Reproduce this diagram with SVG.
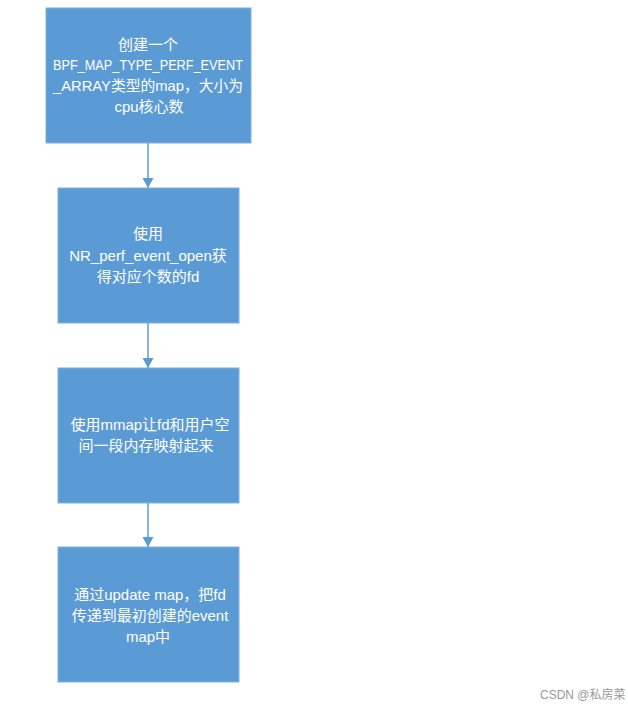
<svg xmlns="http://www.w3.org/2000/svg" width="628" height="709" viewBox="0 0 628 709">
<style>
.box{fill:#5b9bd5;stroke:#7fb0df;stroke-width:1}
.t{font-family:"Liberation Sans","Noto Sans CJK SC",sans-serif;font-size:15px;fill:#ffffff;text-anchor:middle}
.c{stroke:#5b9bd5;stroke-width:1.5;fill:none}
.wm{font-family:"Liberation Sans","Noto Sans CJK SC",sans-serif;font-size:12px;fill:#999999}
</style>
<defs>
<marker id="ah" markerWidth="10" markerHeight="11" refX="10" refY="5.5" orient="auto" markerUnits="userSpaceOnUse">
<path d="M0,0 L10,5.5 L0,11 Z" fill="#5b9bd5"/>
</marker>
</defs>
<rect width="628" height="709" fill="#ffffff"/>
<g id="connectors">
<line class="c" x1="148" y1="143" x2="148" y2="188" marker-end="url(#ah)"/>
<line class="c" x1="148" y1="323" x2="148" y2="368" marker-end="url(#ah)"/>
<line class="c" x1="148" y1="503" x2="148" y2="547" marker-end="url(#ah)"/>
</g>
<g id="node1">
<rect class="box" x="46" y="8" width="205" height="135"/>
<text class="t" x="148" y="50">创建一个</text>
<text class="t" x="148" y="70" textLength="190" lengthAdjust="spacingAndGlyphs">BPF_MAP_TYPE_PERF_EVENT</text>
<text class="t" x="148" y="91" textLength="190" lengthAdjust="spacingAndGlyphs">_ARRAY类型的map，大小为</text>
<text class="t" x="149" y="112">cpu核心数</text>
</g>
<g id="node2">
<rect class="box" x="58" y="188" width="181" height="135"/>
<text class="t" x="148" y="239">使用</text>
<text class="t" x="148" y="261">NR_perf_event_open获</text>
<text class="t" x="148" y="282">得对应个数的fd</text>
</g>
<g id="node3">
<rect class="box" x="58" y="368" width="181" height="135"/>
<text class="t" x="150" y="430">使用mmap让fd和用户空</text>
<text class="t" x="146" y="451">间一段内存映射起来</text>
</g>
<g id="node4">
<rect class="box" x="58" y="547" width="181" height="135"/>
<text class="t" x="150" y="600">通过update map，把fd</text>
<text class="t" x="150" y="621">传递到最初创建的event</text>
<text class="t" x="148" y="642">map中</text>
</g>
<text class="wm" x="540" y="699">CSDN @私房菜</text>
</svg>
